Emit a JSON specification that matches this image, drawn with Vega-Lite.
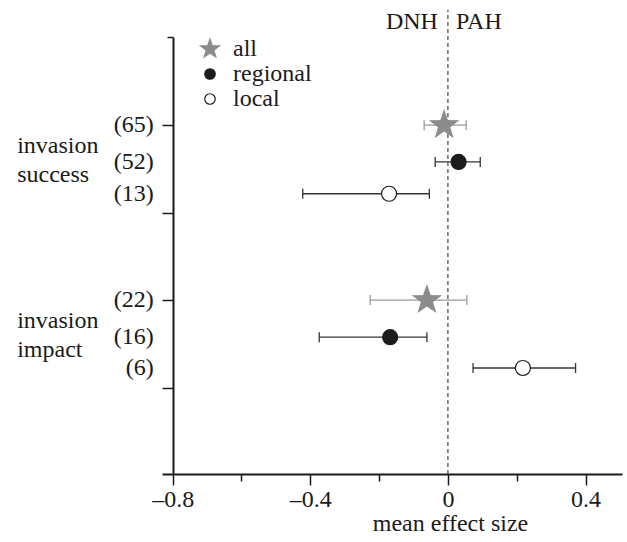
{
  "$schema": "https://vega.github.io/schema/vega-lite/v6.json",
  "width": 460,
  "height": 437,
  "autosize": {"type": "none"},
  "padding": {"left": 162, "top": 37, "right": 5, "bottom": 68},
  "config": {
    "font": "Liberation Serif",
    "axis": {"grid": false},
    "legend": {"padding": 0},
    "view": {"stroke": null}
  },
  "datasets": {
    "effects": [
      {"outcome": "invasion success", "type": "all", "n": "(65)", "mean": -0.011, "lo": -0.069, "hi": 0.053, "row": 10},
      {"outcome": "invasion success", "type": "regional", "n": "(52)", "mean": 0.031, "lo": -0.037, "hi": 0.094, "row": 8.95},
      {"outcome": "invasion success", "type": "local", "n": "(13)", "mean": -0.171, "lo": -0.422, "hi": -0.054, "row": 8.04},
      {"outcome": "invasion impact", "type": "all", "n": "(22)", "mean": -0.061, "lo": -0.226, "hi": 0.055, "row": 5},
      {"outcome": "invasion impact", "type": "regional", "n": "(16)", "mean": -0.168, "lo": -0.374, "hi": -0.061, "row": 3.94},
      {"outcome": "invasion impact", "type": "local", "n": "(6)", "mean": 0.218, "lo": 0.073, "hi": 0.371, "row": 3.06}
    ],
    "outcomes": [
      {"label": ["invasion", "success"], "row": 9.4},
      {"label": ["invasion", "impact"], "row": 4.4}
    ]
  },
  "layer": [
    {
      "data": {"values": [{}]},
      "mark": {"type": "rule", "strokeDash": [4, 3], "color": "#444", "strokeWidth": 1.2},
      "encoding": {
        "x": {
          "datum": 0, "type": "quantitative",
          "scale": {"domain": [-0.831, 0.506], "nice": false, "zero": false},
          "axis": {
            "values": [-0.8, -0.6, -0.4, -0.2, 0, 0.2, 0.4],
            "labelExpr": "abs(round(datum.value*10))%4==0 ? (abs(datum.value)<0.01 ? '0' : (datum.value<0 ? '–' : '') + format(abs(datum.value), '.1f')) : ''",
            "tickSize": {"condition": {"test": "abs(round(datum.value*10))%4==0", "value": 11}, "value": 7},
            "tickWidth": 1.5,
            "tickColor": "#1a1a1a",
            "domainWidth": 2,
            "domainColor": "#1a1a1a",
            "labelFontSize": 24,
            "labelColor": "#1a1a1a",
            "labelPadding": 2,
            "labelFlush": false,
            "labelOverlap": false,
            "title": "mean effect size",
            "titleFontSize": 24,
            "titleFontWeight": "normal",
            "titleColor": "#1a1a1a",
            "titleX": 288,
            "titleAlign": "center",
            "titlePadding": 0
          }
        },
        "y": {
          "datum": 0.03, "type": "quantitative",
          "scale": {"domain": [0.03, 12.52], "nice": false, "zero": false},
          "axis": {
            "values": [2.5, 5, 7.5, 10, 12.52],
            "labels": false,
            "tickSize": {"condition": {"test": "datum.value > 12", "value": 6}, "value": 11},
            "tickWidth": 1.5,
            "tickColor": "#1a1a1a",
            "domainWidth": 2,
            "domainColor": "#1a1a1a",
            "offset": -11,
            "title": null
          }
        },
        "y2": {"datum": 13.29}
      }
    },
    {
      "data": {"name": "effects"},
      "mark": {"type": "rule", "strokeWidth": 1.3},
      "encoding": {
        "x": {"field": "lo", "type": "quantitative"},
        "x2": {"field": "hi"},
        "y": {"field": "row", "type": "quantitative"},
        "stroke": {"condition": {"test": "datum.type === 'all'", "value": "#9a9a9a"}, "value": "#333333"}
      }
    },
    {
      "data": {"name": "effects"},
      "mark": {"type": "point", "shape": "M0,-1L0,1", "size": 100, "strokeWidth": 1.3, "opacity": 1},
      "encoding": {
        "x": {"field": "lo", "type": "quantitative"},
        "y": {"field": "row", "type": "quantitative"},
        "stroke": {"condition": {"test": "datum.type === 'all'", "value": "#9a9a9a"}, "value": "#333333"}
      }
    },
    {
      "data": {"name": "effects"},
      "mark": {"type": "point", "shape": "M0,-1L0,1", "size": 100, "strokeWidth": 1.3, "opacity": 1},
      "encoding": {
        "x": {"field": "hi", "type": "quantitative"},
        "y": {"field": "row", "type": "quantitative"},
        "stroke": {"condition": {"test": "datum.type === 'all'", "value": "#9a9a9a"}, "value": "#333333"}
      }
    },
    {
      "data": {"name": "effects"},
      "mark": {"type": "point", "size": 225, "strokeWidth": 1.2, "opacity": 1},
      "encoding": {
        "x": {"field": "mean", "type": "quantitative"},
        "y": {"field": "row", "type": "quantitative"},
        "shape": {
          "field": "type", "type": "nominal",
          "scale": {
            "domain": ["all", "regional", "local"],
            "range": ["M0,-1.9L0.447,-0.615L1.807,-0.587L0.723,0.235L1.117,1.537L0,0.76L-1.117,1.537L-0.723,0.235L-1.807,-0.587L-0.447,-0.615Z", "circle", "circle"]
          },
          "legend": {
            "orient": "none", "legendX": 36, "legendY": 0, "title": null,
            "labelFontSize": 24, "labelColor": "#1a1a1a", "labelOffset": 11,
            "symbolSize": 110, "symbolStrokeWidth": 1.2, "rowPadding": 1
          }
        },
        "fill": {
          "field": "type", "type": "nominal",
          "scale": {"domain": ["all", "regional", "local"], "range": ["#8c8c8c", "#1c1c1c", "#ffffff"]},
          "legend": {
            "orient": "none", "legendX": 36, "legendY": 0, "title": null,
            "labelFontSize": 24, "labelColor": "#1a1a1a", "labelOffset": 11,
            "symbolSize": 110, "symbolStrokeWidth": 1.2, "rowPadding": 1
          }
        },
        "stroke": {
          "field": "type", "type": "nominal",
          "scale": {"domain": ["all", "regional", "local"], "range": ["#8c8c8c", "#1c1c1c", "#1c1c1c"]},
          "legend": {
            "orient": "none", "legendX": 36, "legendY": 0, "title": null,
            "labelFontSize": 24, "labelColor": "#1a1a1a", "labelOffset": 11,
            "symbolSize": 110, "symbolStrokeWidth": 1.2, "rowPadding": 1
          }
        }
      }
    },
    {
      "data": {"name": "effects"},
      "mark": {"type": "text", "align": "right", "baseline": "middle", "dx": -19, "fontSize": 24, "color": "#1a1a1a"},
      "encoding": {
        "x": {"datum": -0.8, "type": "quantitative"},
        "y": {"field": "row", "type": "quantitative"},
        "text": {"field": "n"}
      }
    },
    {
      "data": {"name": "outcomes"},
      "mark": {"type": "text", "align": "left", "baseline": "middle", "fontSize": 24, "lineHeight": 29, "color": "#1a1a1a"},
      "encoding": {
        "x": {"datum": -1.252, "type": "quantitative"},
        "y": {"field": "row", "type": "quantitative"},
        "text": {"field": "label"}
      }
    },
    {
      "data": {"values": [{}]},
      "mark": {"type": "text", "text": "DNH", "align": "right", "baseline": "middle", "dx": -10, "fontSize": 24, "color": "#1a1a1a"},
      "encoding": {
        "x": {"datum": 0, "type": "quantitative"},
        "y": {"datum": 12.94, "type": "quantitative"}
      }
    },
    {
      "data": {"values": [{}]},
      "mark": {"type": "text", "text": "PAH", "align": "left", "baseline": "middle", "dx": 8, "fontSize": 24, "color": "#1a1a1a"},
      "encoding": {
        "x": {"datum": 0, "type": "quantitative"},
        "y": {"datum": 12.94, "type": "quantitative"}
      }
    }
  ]
}
